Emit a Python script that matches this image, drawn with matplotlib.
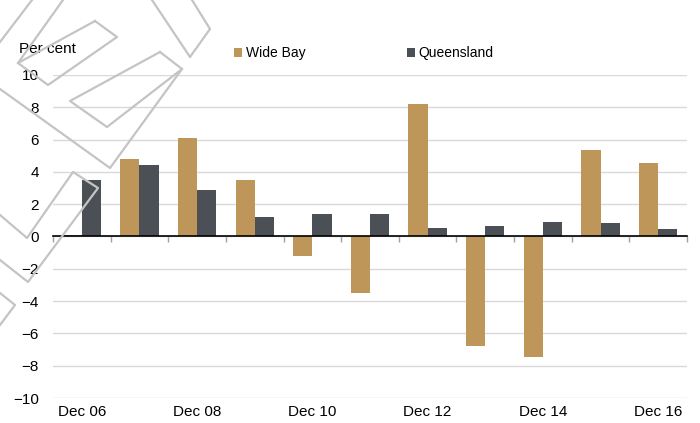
import numpy as np
import matplotlib
matplotlib.use('Agg')
import matplotlib.pyplot as plt
from matplotlib.lines import Line2D

#---fonts
plt.rcParams['font.family'] = ['Liberation Sans', 'DejaVu Sans']
plt.rcParams['font.size'] = 11

#---data (annual, per cent)
years = ['Dec 06', 'Dec 07', 'Dec 08', 'Dec 09', 'Dec 10', 'Dec 11',
         'Dec 12', 'Dec 13', 'Dec 14', 'Dec 15', 'Dec 16']
wide_bay = [0.1, 4.8, 6.1, 3.5, -1.2, -3.5, 8.2, -6.8, -7.45, 5.35, 4.55]
queensland = [3.5, 4.45, 2.9, 1.2, 1.4, 1.4, 0.55, 0.65, 0.9, 0.85, 0.45]
yticks = [-10, -8, -6, -4, -2, 0, 2, 4, 6, 8, 10]

c_wb = '#BF965A'
c_q = '#4B5057'

W, H = 700, 423
fig = plt.figure(figsize=(W / 100, H / 100), dpi=100)
ax = fig.add_axes([53 / W, 1 - 398 / H, (687 - 53) / W, (398 - 75) / H])

x = np.arange(len(years))
bw = 1 / 3
ax.bar(x - bw / 2, wide_bay, width=bw, color=c_wb, label='Wide Bay', zorder=3)
ax.bar(x + bw / 2, queensland, width=bw, color=c_q, label='Queensland', zorder=3)

ax.set_xlim(-0.5, len(years) - 0.5)
ax.set_ylim(-10, 10)
ax.set_yticks(yticks)
ax.yaxis.grid(True, color='#d9d9d9', lw=1)
ax.set_axisbelow(True)
ax.tick_params(axis='y', length=0, pad=10, labelsize=11)
for s in ['top', 'right', 'left']:
    ax.spines[s].set_visible(False)

#---zero line with category boundary ticks
ax.spines['bottom'].set_position(('data', 0))
ax.spines['bottom'].set_color('black')
ax.spines['bottom'].set_linewidth(1.2)
ax.spines['bottom'].set_zorder(4)
ax.set_xticks([])
ax.set_xticks(np.arange(len(years) + 1) - 0.5, minor=True)
ax.tick_params(axis='x', which='minor', length=4, color='#a0a0a0', width=1)

#---date labels at bottom
sec = ax.secondary_xaxis(0.0)
sec.set_xticks(x[::2])
sec.set_xticklabels(years[::2])
sec.tick_params(length=0, pad=5, labelsize=11)
sec.spines['bottom'].set_visible(False)

fig.text(19 / W, 1 - 49 / H, 'Per cent', fontsize=11, va='center', ha='left')

ax.legend(ncol=2, frameon=False, loc='center left',
          bbox_to_anchor=(234 / W, 1 - 53 / H), bbox_transform=fig.transFigure,
          borderpad=0, borderaxespad=0, handlelength=0.6, handleheight=0.6,
          handletextpad=0.25, columnspacing=7.3, fontsize=10)

#---watermark outline in the top-left corner (pixel coords)
wm = [
    [(0, 42), (32, 0)],
    [(18, 63), (63, 0)],
    [(95, 21), (117, 37), (48, 85), (18, 63), (95, 21)],
    [(160, 52), (182, 69), (107, 127), (70, 101), (160, 52)],
    [(0, 89), (110, 168), (182, 69)],
    [(152, 0), (190, 57), (210, 29), (192, 0)],
    [(0, 215), (27, 238), (73, 172), (98, 188), (28, 282), (0, 260)],
    [(0, 293), (15, 305), (0, 325)],
]
for pts in wm:
    px = [p[0] / W for p in pts]
    py = [1 - p[1] / H for p in pts]
    fig.add_artist(Line2D(px, py, transform=fig.transFigure,
                          color='#c4c4c4', lw=1.6, zorder=5))

fig.savefig('out.png', dpi=100)
